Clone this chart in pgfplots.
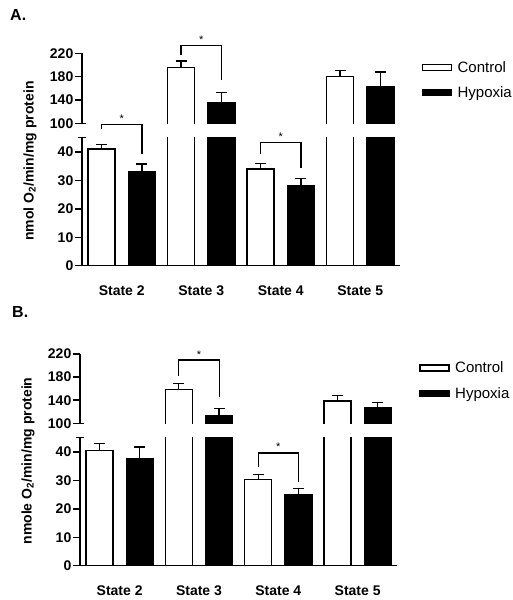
\documentclass[border=0pt]{standalone}
\usepackage{pgfplots}
\pgfplotsset{compat=1.18}
\usepackage{pgfplotstable}
\usepackage{fontspec}
\setmainfont{Liberation Sans}

% x positions: control bars at group-0.254, hypoxia bars at group+0.254
\pgfplotstableread{
xc ctrl ctrlerr xh hyp hyperr
-0.254 41.0 1.5 0.254 33.2 2.6
0.746 195.3 11.5 1.254 136.0 17.0
1.746 34.0 1.9 2.254 28.0 2.6
2.746 180.0 10.2 3.254 163.4 24.6
}\dataA
\pgfplotstableread{
xc ctrl ctrlerr xh hyp hyperr
-0.254 40.6 2.3 0.254 37.6 4.1
0.746 158.8 10.4 1.254 113.3 12.7
1.746 30.2 1.9 2.254 25.0 2.2
2.746 138.7 9.2 3.254 127.1 9.2
}\dataB

\pgfplotsset{
  frame/.style={scale only axis, xmin=-0.5, xmax=3.5, anchor=south west, clip=false,
    axis line style={line width=1.5pt},
    tick style={line width=1.5pt, black},
    tick align=outside, major tick length=7pt,
    yticklabel style={font=\bfseries\fontsize{14}{16}\selectfont, inner sep=1.5pt},
    /pgf/number format/assume math mode=true},
  data/.style={scale only axis, xmin=-0.5, xmax=3.5, anchor=south west, hide axis, clip=false},
  errs/.style={error bars/y dir=plus, error bars/y explicit,
    error bars/error bar style={line width=1.3pt, black},
    error bars/error mark options={rotate=90, mark size=5.5pt, line width=1.3pt, black}},
  ctrl/.style={ybar, bar width=0.34, bar shift=0pt, fill=white, draw=black, line width=1.3pt, errs},
  hyp/.style={ybar, bar width=0.34, bar shift=0pt, fill=black, draw=black, line width=1.3pt, errs},
  brk/.style={draw=black, line width=1.2pt, mark=none},
  leg/.style={legend style={draw=none, fill=none, anchor=north west, inner sep=0pt,
    font=\fontsize{15}{18}\selectfont, row sep=9pt,
    /tikz/every odd column/.append style={column sep=3.5pt}}, legend cell align=left},
  legimg/.style={legend image code/.code={\draw[line width=1.3pt, draw=black, ##1] (0pt,-3pt) rectangle (29pt,3pt);}},
  xlabs/.style={xtick={0,1,2,3}, xticklabels={State 2,State 3,State 4,State 5}, major x tick style={draw=none},
    xticklabel style={font=\bfseries\fontsize{14}{16}\selectfont, anchor=base, inner sep=0pt, yshift=-22.3pt}},
}
\tikzset{star/.style={anchor=base, inner sep=0pt, font=\fontsize{11}{11}\selectfont}}

\begin{document}
\begin{tikzpicture}
\useasboundingbox (0,0) rectangle (513pt,-600pt);
% ================= Panel A =================
\node[anchor=base west, inner sep=0pt, font=\bfseries\fontsize{16}{18}\selectfont] at (10pt,-20pt) {A.};
\node[rotate=90, inner sep=0pt, font=\bfseries\fontsize{14}{16}\selectfont] at (30pt,-161pt) {nmol O\textsubscript{2}/min/mg protein};
% lower data (0..45 shown)
\begin{scope}
\clip (70pt,-268pt) rectangle (400pt,-137.7pt);
\begin{axis}[data, at={(82pt,-265.7pt)}, width=318pt, height=711.1pt, ymin=0, ymax=250]
\addplot[ctrl] table[x=xc, y=ctrl, y error=ctrlerr] {\dataA};
\addplot[hyp] table[x=xh, y=hyp, y error=hyperr] {\dataA};
\end{axis}
\end{scope}
% upper data (100..220 shown)
\begin{scope}
\clip (70pt,-123.3pt) rectangle (400pt,-40pt);
\begin{axis}[data, at={(82pt,-181.633pt)}, width=318pt, height=128.333pt, ymin=0, ymax=220]
\addplot[ctrl] table[x=xc, y=ctrl, y error=ctrlerr] {\dataA};
\addplot[hyp] table[x=xh, y=hyp, y error=hyperr] {\dataA};
\end{axis}
\end{scope}
% lower frame
\begin{axis}[frame, at={(82pt,-265.7pt)}, width=318pt, height=128pt, ymin=0, ymax=45,
  axis x line*=bottom, axis y line*=left, ytick={0,10,20,30,40},
  extra y ticks={45}, extra y tick labels={}, extra tick style={tick align=center, major tick length=8pt}, xlabs]
\addplot[brk] coordinates {(-0.254,47.9) (-0.254,49.6) (0.254,49.6) (0.254,39.4)};
\node[star] at (axis cs:0,50.4) {*};
\addplot[brk] coordinates {(1.746,39.3) (1.746,43.4) (2.254,43.4) (2.254,34.4)};
\node[star] at (axis cs:2,44.0) {*};
\end{axis}
% upper frame
\begin{axis}[frame, at={(82pt,-123.3pt)}, width=318pt, height=70pt, ymin=100, ymax=220,
  axis x line=none, axis y line*=left, ytick={100,140,180,220}, xtick=\empty,
  extra y ticks={100}, extra y tick labels={}, extra tick style={tick align=inside, major tick length=3.5pt},
  leg, legend style={at={(axis description cs:1.068,0.919)}}]
\addlegendimage{legimg, fill=white, draw=black}
\addlegendentry{Control}
\addlegendimage{legimg, fill=black, draw=black}
\addlegendentry{Hypoxia}
\addplot[brk, forget plot] coordinates {(0.746,217) (0.746,233) (1.254,233) (1.254,174.2)};
\node[star] at (axis cs:1,236.5) {*};
\end{axis}
% ================= Panel B =================
\node[anchor=base west, inner sep=0pt, font=\bfseries\fontsize{16}{18}\selectfont] at (12pt,-317pt) {B.};
\node[rotate=90, inner sep=0pt, font=\bfseries\fontsize{14}{16}\selectfont] at (28pt,-461pt) {nmole O\textsubscript{2}/min/mg protein};
\begin{scope}
\clip (70pt,-568pt) rectangle (397.3pt,-437.7pt);
\begin{axis}[data, at={(80pt,-565.7pt)}, width=317.3pt, height=711.1pt, ymin=0, ymax=250]
\addplot[ctrl] table[x=xc, y=ctrl, y error=ctrlerr] {\dataB};
\addplot[hyp] table[x=xh, y=hyp, y error=hyperr] {\dataB};
\end{axis}
\end{scope}
\begin{scope}
\clip (70pt,-423.3pt) rectangle (397.3pt,-340pt);
\begin{axis}[data, at={(80pt,-481.05pt)}, width=317.3pt, height=127.05pt, ymin=0, ymax=220]
\addplot[ctrl] table[x=xc, y=ctrl, y error=ctrlerr] {\dataB};
\addplot[hyp] table[x=xh, y=hyp, y error=hyperr] {\dataB};
\end{axis}
\end{scope}
\begin{axis}[frame, at={(80pt,-565.7pt)}, width=317.3pt, height=128pt, ymin=0, ymax=45,
  axis x line*=bottom, axis y line*=left, ytick={0,10,20,30,40},
  extra y ticks={45}, extra y tick labels={}, extra tick style={tick align=center, major tick length=8pt}, xlabs]
\addplot[brk] coordinates {(1.746,34.6) (1.746,39.6) (2.254,39.6) (2.254,29.3)};
\node[star] at (axis cs:2,40.6) {*};
\end{axis}
\begin{axis}[frame, at={(80pt,-423.3pt)}, width=317.3pt, height=69.3pt, ymin=100, ymax=220,
  axis x line=none, axis y line*=left, ytick={100,140,180,220}, xtick=\empty,
  extra y ticks={100}, extra y tick labels={}, extra tick style={tick align=inside, major tick length=3.5pt},
  leg, legend style={at={(axis description cs:1.069,0.918)}}]
\addlegendimage{legimg, fill=white, draw=black}
\addlegendentry{Control}
\addlegendimage{legimg, fill=black, draw=black}
\addlegendentry{Hypoxia}
\addplot[brk, forget plot] coordinates {(0.746,181.9) (0.746,209.6) (1.254,209.6) (1.254,146.2)};
\node[star] at (axis cs:1,213) {*};
\end{axis}
\end{tikzpicture}
\end{document}
